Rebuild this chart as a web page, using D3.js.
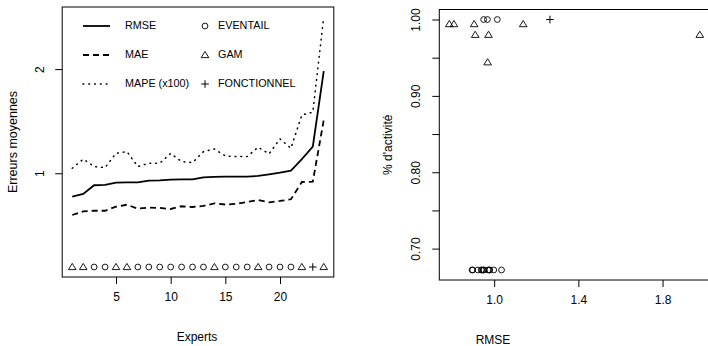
<!DOCTYPE html>
<html>
<head>
<meta charset="utf-8">
<script src="https://d3js.org/d3.v7.min.js"></script>
<style>
  body { margin: 0; background: #fff; }
  svg text { font-family: "Liberation Sans", Arial, sans-serif; fill: #000; }
</style>
</head>
<body>
<div class="chart"></div>
<script>
// left panel: errors per expert (sorted by RMSE)
var experts = [1,2,3,4,5,6,7,8,9,10,11,12,13,14,15,16,17,18,19,20,21,22,23,24];
var rmse = [0.775,0.801,0.885,0.888,0.910,0.913,0.913,0.929,0.932,0.939,0.942,0.942,
            0.961,0.965,0.968,0.968,0.968,0.974,0.990,1.006,1.025,1.135,1.256,1.98];
var mae = [0.599,0.634,0.640,0.640,0.679,0.698,0.660,0.670,0.667,0.657,0.683,0.676,
           0.686,0.711,0.700,0.706,0.724,0.743,0.721,0.734,0.750,0.916,0.919,1.51];
var mape = [1.048,1.135,1.064,1.054,1.192,1.208,1.064,1.096,1.096,1.190,1.112,1.102,
            1.208,1.233,1.166,1.160,1.160,1.250,1.186,1.330,1.240,1.560,1.586,2.50];
var expertType = ["GAM","GAM","EVENTAIL","EVENTAIL","GAM","GAM","EVENTAIL","EVENTAIL",
                  "EVENTAIL","EVENTAIL","EVENTAIL","EVENTAIL","EVENTAIL","GAM","EVENTAIL","EVENTAIL",
                  "EVENTAIL","GAM","EVENTAIL","EVENTAIL","EVENTAIL","GAM","FONCTIONNEL","GAM"];
var markerLevel = 0.1;
var leftXTicks = [5,10,15,20];
var leftYTicks = [1,2];

// right panel: RMSE vs % activity
var gamRmse = [0.787,0.809,0.905,0.910,0.973,0.969,1.138,1.977];
var gamAct = [0.994,0.994,0.994,0.980,0.980,0.944,0.994,0.980];
var eventRmse = [0.895,0.898,0.923,0.939,0.942,0.949,0.952,0.971,0.978,0.978,0.998,1.035,
                 0.950,0.968,1.015];
var eventAct = [0.672,0.672,0.672,0.672,0.672,0.672,0.672,0.672,0.672,0.672,0.672,0.672,
                1.0,1.0,1.0];
var fonctRmse = [1.265];
var fonctAct = [1.0];
var rightXTicks = [1.0,1.4,1.8];
var rightYTicks = [0.70,0.75,0.80,0.85,0.90,0.95,1.00];
var rightYLabels = [0.70,0.80,0.90,1.00];

var DASH = "6,4", DOT = "0.8,5";
var legendLines = [
  {label: "RMSE", dash: null},
  {label: "MAE", dash: DASH},
  {label: "MAPE (x100)", dash: DOT}
];
var legendSymbols = ["EVENTAIL","GAM","FONCTIONNEL"];

var w = 708, h = 346;
var svg = d3.select(".chart").append("svg").attr("width", w).attr("height", h);

function pad(ext) {
  var d = (ext[1] - ext[0]) * 0.04;
  return [ext[0] - d, ext[1] + d];
}

function drawSymbol(g, type, x, y) {
  if (type === "EVENTAIL") {
    g.append("circle").attr("cx", x).attr("cy", y).attr("r", 2.9)
      .attr("fill", "none").attr("stroke", "#000").attr("stroke-width", 0.9);
  } else if (type === "GAM") {
    g.append("path")
      .attr("d", "M" + x + "," + (y - 3.6) + "L" + (x + 3.8) + "," + (y + 2.6) + "L" + (x - 3.8) + "," + (y + 2.6) + "Z")
      .attr("fill", "none").attr("stroke", "#000").attr("stroke-width", 0.9);
  } else {
    g.append("path")
      .attr("d", "M" + (x - 3.8) + "," + y + "H" + (x + 3.8) + "M" + x + "," + (y - 3.8) + "V" + (y + 3.8))
      .attr("stroke", "#000").attr("stroke-width", 1);
  }
}

function styleLine(sel, dash) {
  sel.attr("fill", "none").attr("stroke", "#000")
    .attr("stroke-width", dash === DOT ? 1.5 : 1.8)
    .attr("stroke-dasharray", dash)
    .attr("stroke-linecap", dash === DOT ? "round" : "butt");
}

// ---------- left panel ----------
var L = {x0: 62.2, x1: 333.8, y0: 7, y1: 277};
var xL = d3.scaleLinear().domain(pad(d3.extent(experts))).range([L.x0, L.x1]);
var allErr = rmse.concat(mae, mape, [markerLevel]);
var yL = d3.scaleLinear().domain(pad(d3.extent(allErr))).range([L.y1, L.y0]);

var gl = svg.append("g");
gl.append("rect").attr("x", L.x0).attr("y", L.y0)
  .attr("width", L.x1 - L.x0).attr("height", L.y1 - L.y0)
  .attr("fill", "none").attr("stroke", "#000").attr("stroke-width", 1);

var lineL = function(vals) {
  return d3.line().x(function(d, i) { return xL(experts[i]); }).y(function(d) { return yL(d); })(vals);
};
[[rmse, null], [mae, DASH], [mape, DOT]].forEach(function(s) {
  styleLine(gl.append("path").attr("d", lineL(s[0])), s[1]);
});

experts.forEach(function(e, i) {
  drawSymbol(gl, expertType[i], xL(e), yL(markerLevel));
});

var axBL = gl.append("g").attr("transform", "translate(0," + L.y1 + ")")
  .call(d3.axisBottom(xL).tickValues(leftXTicks).tickSize(7).tickPadding(8).tickFormat(d3.format("d")));
var axLL = gl.append("g").attr("transform", "translate(" + L.x0 + ",0)")
  .call(d3.axisLeft(yL).tickValues(leftYTicks).tickSize(7).tickFormat(d3.format("d")));

gl.append("text").attr("x", (L.x0 + L.x1) / 2 - 1).attr("y", 338)
  .attr("text-anchor", "middle").attr("dominant-baseline", "middle")
  .style("font-size", "12px").text("Experts");
gl.append("text").attr("transform", "translate(14," + ((L.y0 + L.y1) / 2) + ") rotate(-90)")
  .attr("text-anchor", "middle").attr("dominant-baseline", "middle")
  .style("font-size", "12.5px").text("Erreurs moyennes");

// legend
var legRows = [26, 55, 84];
legendLines.forEach(function(d, i) {
  styleLine(gl.append("line").attr("x1", 83).attr("x2", 110).attr("y1", legRows[i]).attr("y2", legRows[i]), d.dash);
  gl.append("text").attr("x", 125).attr("y", legRows[i]).attr("dominant-baseline", "middle")
    .style("font-size", "10.8px").text(d.label);
});
legendSymbols.forEach(function(t, i) {
  drawSymbol(gl, t, 205, legRows[i]);
  gl.append("text").attr("x", 218).attr("y", legRows[i]).attr("dominant-baseline", "middle")
    .style("font-size", "10.8px").text(t);
});

// ---------- right panel ----------
var R = {x0: 439.3, y0: 9.5, y1: 280};
var allRmse = gamRmse.concat(eventRmse, fonctRmse);
var allAct = gamAct.concat(eventAct, fonctAct);
var xDom = pad(d3.extent(allRmse));
var xR = d3.scaleLinear().domain(xDom).range([R.x0, R.x0 + (xDom[1] - xDom[0]) * 210.5]);
var yR = d3.scaleLinear().domain(pad(d3.extent(allAct))).range([R.y1, R.y0]);
R.x1 = xR.range()[1];

var gr = svg.append("g");
gr.append("rect").attr("x", R.x0).attr("y", R.y0)
  .attr("width", R.x1 - R.x0).attr("height", R.y1 - R.y0)
  .attr("fill", "none").attr("stroke", "#000").attr("stroke-width", 1);

eventRmse.forEach(function(v, i) { drawSymbol(gr, "EVENTAIL", xR(v), yR(eventAct[i])); });
gamRmse.forEach(function(v, i) { drawSymbol(gr, "GAM", xR(v), yR(gamAct[i])); });
fonctRmse.forEach(function(v, i) { drawSymbol(gr, "FONCTIONNEL", xR(v), yR(fonctAct[i])); });

var axBR = gr.append("g").attr("transform", "translate(0," + R.y1 + ")")
  .call(d3.axisBottom(xR).tickValues(rightXTicks).tickSize(7).tickPadding(8).tickFormat(d3.format(".1f")));
var axLR = gr.append("g").attr("transform", "translate(" + R.x0 + ",0)")
  .call(d3.axisLeft(yR).tickValues(rightYTicks).tickSize(7)
    .tickFormat(function(d) { return rightYLabels.some(function(v) { return Math.abs(v - d) < 1e-9; }) ? d3.format(".2f")(d) : ""; }));

gr.append("text").attr("x", 493).attr("y", 340.5)
  .attr("text-anchor", "middle").attr("dominant-baseline", "middle")
  .style("font-size", "12px").text("RMSE");
gr.append("text").attr("transform", "translate(389," + ((R.y0 + R.y1) / 2) + ") rotate(-90)")
  .attr("text-anchor", "middle").attr("dominant-baseline", "middle")
  .style("font-size", "12px").text("% d'activité");

// axis styling, R-like
[axBL, axLL, axBR, axLR].forEach(function(a) {
  a.select(".domain").remove();
  a.selectAll(".tick line").attr("stroke", "#000");
  a.selectAll(".tick text").style("font-size", "12px").attr("font-family", null);
});
// y tick labels parallel to the axis
[[axLL, 41, L.x0], [axLR, 416.5, R.x0]].forEach(function(p) {
  p[0].selectAll(".tick text")
    .attr("x", null).attr("dy", null)
    .attr("text-anchor", "middle").attr("dominant-baseline", "middle")
    .attr("transform", "translate(" + (p[1] - p[2]) + ",0) rotate(-90)");
});
</script>
</body>
</html>
